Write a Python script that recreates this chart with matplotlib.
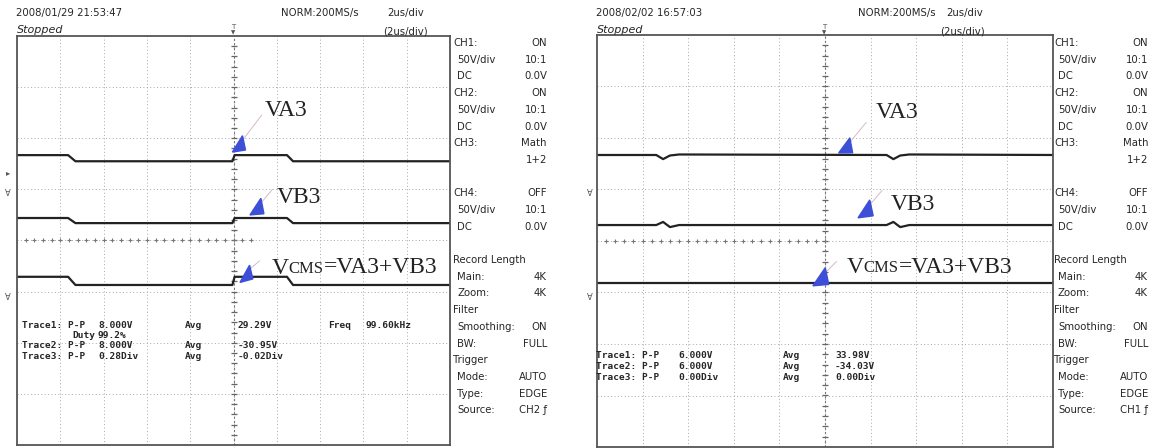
import numpy as np
import matplotlib
matplotlib.use("Agg")
import matplotlib.pyplot as plt
from matplotlib.patches import Polygon

W, H = 1165, 448

# ---- data (time in us, levels in divisions) ----
left_t = [-10, -7.64, -7.3, -0.05, 0.05, 2.47, 2.75, 10]
left_ch1 = [1.67, 1.67, 1.55, 1.55, 1.67, 1.67, 1.55, 1.55]
left_ch2 = [0.44, 0.44, 0.34, 0.34, 0.44, 0.44, 0.34, 0.34]
left_math = [-0.71, -0.71, -0.87, -0.87, -0.71, -0.71, -0.87, -0.87]

right_t = [-10, -7.4, -7.1, -6.8, -6.4, 2.7, 3.0, 3.3, 3.7, 10]
right_ch1 = [1.67, 1.67, 1.59, 1.66, 1.68, 1.67, 1.59, 1.66, 1.68, 1.67]
right_ch2 = [0.31, 0.31, 0.37, 0.27, 0.31, 0.31, 0.37, 0.27, 0.31, 0.31]
right_math = [-0.82, -0.82, -0.82, -0.82, -0.82, -0.82, -0.82, -0.82, -0.82, -0.82]

left_header = ["2008/01/29 21:53:47", "NORM:200MS/s", "2us/div", "(2us/div)"]
right_header = ["2008/02/02 16:57:03", "NORM:200MS/s", "2us/div", "(2us/div)"]

left_meas = [["Trace1: P-P", "8.000V", "Avg", "29.29V", "Freq", "99.60kHz"],
             ["", "Duty", "99.2%"],
             ["Trace2: P-P", "8.000V", "Avg", "-30.95V"],
             ["Trace3: P-P", "0.28Div", "Avg", "-0.02Div"]]
right_meas = [["Trace1: P-P", "6.000V", "Avg", "33.98V"],
              ["Trace2: P-P", "6.000V", "Avg", "-34.03V"],
              ["Trace3: P-P", "0.00Div", "Avg", "0.00Div"]]

side_rows = [("CH1:", "ON"), (" 50V/div", "10:1"), (" DC", "0.0V"),
             ("CH2:", "ON"), (" 50V/div", "10:1"), (" DC", "0.0V"),
             ("CH3:", "Math"), ("", "1+2"), ("", ""),
             ("CH4:", "OFF"), (" 50V/div", "10:1"), (" DC", "0.0V"), ("", ""),
             ("Record Length", ""), (" Main:", "4K"), (" Zoom:", "4K"),
             ("Filter", ""), (" Smoothing:", "ON"), (" BW:", "FULL"),
             ("Trigger", ""), (" Mode:", "AUTO"), (" Type:", "EDGE"),
             (" Source:", "SRC")]

TXT = "#262626"
TRACE = "#222222"
BLUE = "#3d4fd6"

fig = plt.figure(figsize=(W / 100, H / 100), dpi=100)
fig.patch.set_facecolor("white")


def px_axes(x0, y0, x1, y1):
    return fig.add_axes([x0 / W, 1 - y1 / H, (x1 - x0) / W, (y1 - y0) / H])


def scope(box, t, ch1, ch2, math, cross_until):
    ax = px_axes(*box)
    ax.set_xlim(-10, 10)
    ax.set_ylim(-4, 4)
    ax.set_xticks(np.arange(-8, 9, 2))
    ax.set_yticks(np.arange(-3, 4, 1))
    ax.tick_params(length=0, labelbottom=False, labelleft=False)
    ax.grid(True, color="#a8a8a8", lw=0.7, ls=(0, (1, 2.5)))
    for s in ax.spines.values():
        s.set_color("#555555")
        s.set_linewidth(1.3)
    # centre graticule with minor ticks
    ax.axvline(0, color="#777777", lw=0.8, ls=(0, (2, 2)))
    ys = np.arange(-3.8, 4, 0.2)
    ax.plot(np.zeros_like(ys), ys, ls="none", marker="_", ms=4, color="#666666", mew=0.9)
    xs = np.arange(-9.6, cross_until, 0.4)
    ax.plot(xs, np.zeros_like(xs), ls="none", marker="+", ms=3.5, color="#777777", mew=0.8)
    for y in (ch1, ch2, math):
        ax.plot(t, y, color=TRACE, lw=1.6)
    return ax


def arrow(ax, tip, head, tail):
    ax.plot([head[0], tail[0]], [head[1], tail[1]], color="#d6b9c9", lw=0.7, clip_on=False)
    dx, dy = head[0] - tip[0], head[1] - tip[1]
    px, py = -dy * 0.35, dx * 0.35
    tri = Polygon([tip, (head[0] + px * 0.4, head[1] + py * 0.4),
                   (head[0] - px * 1.2, head[1] - py * 1.2)],
                  closed=True, color=BLUE, clip_on=False, zorder=5)
    ax.add_patch(tri)


def vcms(ax, x, y):
    t1 = ax.text(x, y, "V", family="Liberation Serif", fontsize=17, color="#222222",
                 va="bottom", ha="left")
    t2 = ax.annotate("CMS", xy=(1, 0.08), xycoords=t1, family="Liberation Serif",
                     fontsize=12, color="#222222", va="bottom", ha="left")
    ax.annotate("=VA3+VB3", xy=(1, -0.08), xycoords=t2, family="Liberation Serif",
                fontsize=17, color="#222222", va="bottom", ha="left")


lax = scope((17, 36, 450, 445), left_t, left_ch1, left_ch2, left_math, 1.2)
rax = scope((597, 35, 1053, 447), right_t, right_ch1, right_ch2, right_math, 0.1)

serif = dict(family="Liberation Serif", fontsize=17, color="#222222", va="center")
lax.text(1.45, 2.55, "VA3", **serif)
lax.text(2.0, 0.85, "VB3", **serif)
vcms(lax, 1.75, -0.75)
arrow(lax, (-0.05, 1.73), (0.45, 1.98), (1.3, 2.45))
arrow(lax, (0.76, 0.5), (1.3, 0.75), (1.8, 1.0))
arrow(lax, (0.3, -0.82), (0.78, -0.55), (1.2, -0.4))

rax.text(2.24, 2.5, "VA3", **serif)
rax.text(2.9, 0.7, "VB3", **serif)
vcms(rax, 0.95, -0.72)
arrow(rax, (0.6, 1.71), (1.12, 1.93), (1.8, 2.3))
arrow(rax, (1.45, 0.45), (2.0, 0.72), (2.5, 0.98))
arrow(rax, (-0.53, -0.87), (0.05, -0.6), (0.5, -0.4))

# overlay in pixel coordinates for screen text
bg = fig.add_axes([0, 0, 1, 1], facecolor="none")
bg.set_xlim(0, W)
bg.set_ylim(H, 0)
bg.axis("off")

sans = dict(family="DejaVu Sans", fontsize=7.3, color=TXT, va="center")
mono = dict(family="DejaVu Sans Mono", fontsize=6.8, color=TXT, va="center", fontweight="bold")


def panel_text(ox, box_l, hdr, hx, meas, cols, meas_y0, src, centre_x):
    bg.text(box_l - 1, 13, hdr[0], **sans)
    bg.text(hx[0], 13, hdr[1], **sans)
    bg.text(hx[1], 13, hdr[2], **sans)
    bg.text(hx[2], 31, hdr[3], **sans)
    bg.text(box_l, 30, "Stopped", family="DejaVu Sans", fontsize=8, style="italic",
            color=TXT, va="center")
    # trigger position marker
    bg.text(centre_x, 27, "T", fontsize=5, color="#555555", ha="center", va="center")
    bg.text(centre_x, 32.5, "\u25bc", fontsize=4, color="#555555", ha="center", va="center")
    for k, (lab, val) in enumerate(side_rows):
        y = 43 + 16.7 * k
        if lab:
            bg.text(ox + 453 + (4 if lab.startswith(" ") else 0), y, lab.strip(), **sans)
        if val:
            bg.text(ox + 547, y, src if val == "SRC" else val, ha="right", **sans)
    for r, row in enumerate(meas):
        y = meas_y0 + r * 10.5
        xs = cols[1] if row[0] == "" else cols[0]
        for c, item in enumerate(row):
            if item:
                bg.text(xs[c], y, item, **mono)


panel_text(0, 17, left_header, (281, 387, 383), left_meas,
           ([22, 98, 185, 238, 328, 365], [0, 72, 98]), 325, "CH2 \u0192", 233.5)
panel_text(601, 597, right_header, (858, 946, 940), right_meas,
           ([596, 678, 783, 835], None), 356, "CH1 \u0192", 824)

# ground-level markers on the left edges
for x0, ys in ((8, (173, 193, 298)), (590, (193, 297))):
    for y in ys:
        bg.text(x0, y, "\u2c6f" if y != 173 else "\u25b8", fontsize=6, color="#555555",
                ha="center", va="center", family="DejaVu Sans")

fig.savefig("out.png", dpi=100, facecolor="white")
